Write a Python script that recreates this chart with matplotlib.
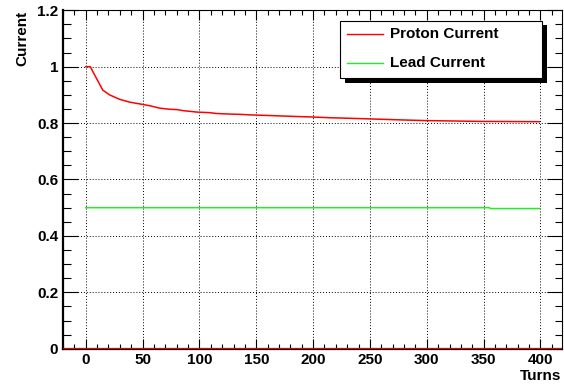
import matplotlib
matplotlib.use("Agg")
import matplotlib.pyplot as plt
from matplotlib.patches import Rectangle
from matplotlib.lines import Line2D
from matplotlib.ticker import MultipleLocator

plt.rcParams['font.family'] = ['Liberation Sans', 'DejaVu Sans']
plt.rcParams['font.weight'] = 'bold'

# Data
proton_turns = [0, 4, 7, 11, 15, 21, 30, 39, 49, 57, 65, 74, 80, 86, 98, 109, 115, 127,
                136, 145, 153, 174, 188, 197, 215, 224, 241, 272, 298, 347, 399]
proton_current = [1.0, 1.0, 0.977, 0.947, 0.917, 0.900, 0.884, 0.874, 0.867, 0.861, 0.853,
                  0.849, 0.848, 0.844, 0.839, 0.837, 0.834, 0.832, 0.831, 0.829, 0.828,
                  0.825, 0.823, 0.822, 0.819, 0.818, 0.816, 0.812, 0.809, 0.806, 0.805]
lead_turns = [0, 355, 356, 399]
lead_current = [0.5, 0.5, 0.497, 0.497]
legend_labels = ["Proton Current", "Lead Current"]
x_label = "Turns"
y_label = "Current"

W, H = 564, 384
fig = plt.figure(figsize=(W / 100, H / 100), dpi=100)

def fx(x):
    return x / W

def fy(y):
    return 1 - y / H

ax_l, ax_r, ax_t, ax_b = 63.0, 561.5, 10.3, 348.7
ax = fig.add_axes([fx(ax_l), fy(ax_b), (ax_r - ax_l) / W, (ax_b - ax_t) / H])

red = '#ff0000'
green = '#22ee22'

ax.plot(proton_turns, proton_current, color=red, lw=1.1, zorder=3)
ax.plot(lead_turns, lead_current, color=green, lw=1.1, zorder=3)
ax.axhline(0, color=red, lw=2.0, zorder=4)

ax.set_xlim(-20, 418.5)
ax.set_ylim(0, 1.2)

ax.xaxis.set_major_locator(MultipleLocator(50))
ax.xaxis.set_minor_locator(MultipleLocator(10))
ax.yaxis.set_major_locator(MultipleLocator(0.2))
ax.yaxis.set_minor_locator(MultipleLocator(0.05))
ax.yaxis.set_major_formatter(plt.FuncFormatter(lambda v, p: ('%g' % round(v, 2))))

ax.grid(True, which='major', color='black', linestyle=(0, (1, 2)), linewidth=0.7)

ax.tick_params(axis='x', which='major', direction='in', length=7.2, width=0.8,
               top=True, bottom=True, labelsize=11, pad=3.0)
ax.tick_params(axis='x', which='minor', direction='in', length=3.8, width=0.8,
               top=True, bottom=True)
ax.tick_params(axis='y', which='major', direction='in', length=10.8, width=0.8,
               left=True, right=True, labelsize=11, pad=3.5)
ax.tick_params(axis='y', which='minor', direction='in', length=5.4, width=0.8,
               left=True, right=True)
for lab in ax.get_xticklabels() + ax.get_yticklabels():
    lab.set_fontweight('bold')

for s in ['left', 'bottom']:
    ax.spines[s].set_linewidth(1.6)
for s in ['top', 'right']:
    ax.spines[s].set_linewidth(0.8)

fig.text(fx(ax_r), fy(383), x_label, ha='right', va='bottom', fontsize=11, fontweight='bold')
fig.text(fx(15.5), fy(ax_t + 1), y_label, ha='left', va='top', rotation=90, fontsize=11,
         fontweight='bold')

# Legend box with shadow
lx0, lx1, ly0, ly1 = 340, 542, 20.7, 78.3
sh = 4.5
fig.patches.append(Rectangle((fx(lx0 + sh), fy(ly1 + sh)), (lx1 - lx0) / W, (ly1 - ly0) / H,
                             transform=fig.transFigure, facecolor='black', edgecolor='black',
                             lw=0, zorder=10))
fig.patches.append(Rectangle((fx(lx0), fy(ly1)), (lx1 - lx0) / W, (ly1 - ly0) / H,
                             transform=fig.transFigure, facecolor='white', edgecolor='black',
                             lw=0.8, zorder=11))
rows = [34.3, 62.7]
for yy, col, lab in zip(rows, [red, green], legend_labels):
    fig.lines.append(Line2D([fx(346.7), fx(383.3)], [fy(yy), fy(yy)], transform=fig.transFigure,
                            color=col, lw=1.0, zorder=12))
    fig.text(fx(390), fy(yy), lab, ha='left', va='center', fontsize=11, fontweight='bold',
             zorder=13)

fig.savefig('out.png', dpi=100)
